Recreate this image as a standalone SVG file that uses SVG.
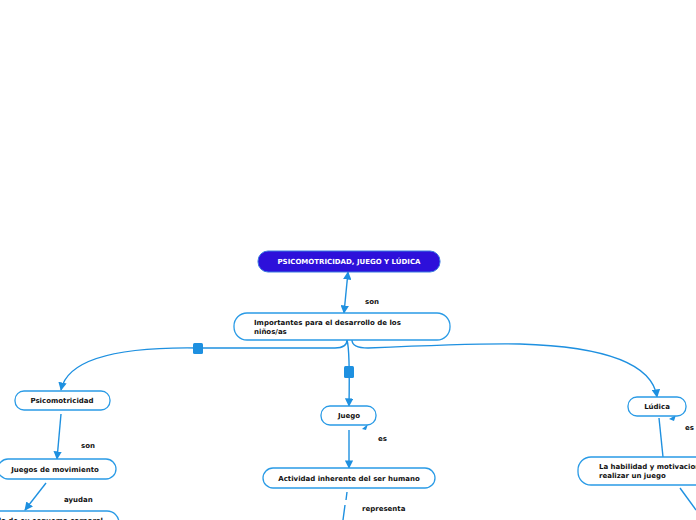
<svg xmlns="http://www.w3.org/2000/svg" width="696" height="520" viewBox="0 0 696 520">
<style>
.n{fill:#fff;stroke:#2a9be6;stroke-width:1.3}
.t{font-family:"DejaVu Sans",Verdana,sans-serif;font-weight:bold;font-size:7px;fill:#111}
.c{fill:none;stroke:#1e90e0;stroke-width:1.4}
.h{fill:#1e90e0}
</style>
<defs>
<marker id="a" viewBox="0 0 10 10" refX="9" refY="5" markerWidth="6" markerHeight="6" orient="auto-start-reverse"><path d="M0,0L10,5L0,10z" fill="#1e90e0"/></marker>
</defs>
<rect width="696" height="520" fill="#fff"/>
<g id="connectors">
<path class="c" d="M348,272L344,313" marker-start="url(#a)" marker-end="url(#a)"/>
<path class="c" d="M347,340Q347,348 335,348L198,348Q70,346 61,390" marker-end="url(#a)"/>
<path class="c" d="M347,340Q350,350 349,406" marker-end="url(#a)"/>
<path class="c" d="M352,340Q352,348 368,348Q480,343 520,344Q650,348 657,397" marker-end="url(#a)"/>
<path class="c" d="M61,414L57,459" marker-end="url(#a)"/>
<path class="c" d="M46,483L25,510" marker-end="url(#a)"/>
<path class="c" d="M349,430L349,468" marker-end="url(#a)"/>
<path class="c" d="M347,492L346,500M345,505L343,520" stroke-width="1"/>
<path class="c" d="M659,418L663,457"/>
<path class="c" d="M680,488L696,510"/>
<path d="M362,429L368,424L366,430z" class="h"/>
<path d="M669,419L676,415L674,421z" class="h"/>
<rect class="h" x="193" y="343" width="10" height="11" rx="1.5"/>
<rect class="h" x="344" y="366" width="10" height="12" rx="1.5"/>
<g class="t"><text x="365" y="304">son</text><text x="81" y="448">son</text><text x="64" y="502">ayudan</text><text x="378" y="441">es</text><text x="362" y="511">representa</text><text x="685" y="430">es</text></g>
</g>
<g id="root"><rect x="258" y="251" width="182" height="21" rx="10" fill="#2d10da" stroke="#3a7be0" stroke-width="1"/><text class="t" x="349" y="264" text-anchor="middle" style="fill:#fff;font-size:7px">PSICOMOTRICIDAD, JUEGO Y LÚDICA</text></g>
<g id="importantes"><rect class="n" x="234" y="313" width="216" height="27" rx="13"/><text class="t" x="254" y="325">Importantes para el desarrollo de los</text><text class="t" x="254" y="334">niños/as</text></g>
<g id="psicomotricidad"><rect class="n" x="15" y="391" width="95" height="19" rx="9"/><text class="t" x="62" y="403" text-anchor="middle">Psicomotricidad</text></g>
<g id="juegos-mov"><rect class="n" x="-2" y="459" width="118" height="20" rx="10"/><text class="t" x="55" y="472" text-anchor="middle">Juegos de movimiento</text></g>
<g id="esquema"><rect class="n" x="-40" y="511" width="159" height="26" rx="12"/><text class="t" x="103" y="523" text-anchor="end">Desarrollo de su esquema corporal</text></g>
<g id="juego"><rect class="n" x="321" y="406" width="55" height="19" rx="9"/><text class="t" x="349" y="418" text-anchor="middle">Juego</text></g>
<g id="actividad"><rect class="n" x="263" y="468" width="172" height="20" rx="10"/><text class="t" x="349" y="481" text-anchor="middle">Actividad inherente del ser humano</text></g>
<g id="ludica"><rect class="n" x="628" y="397" width="58" height="19" rx="9"/><text class="t" x="657" y="409" text-anchor="middle">Lúdica</text></g>
<g id="habilidad"><rect class="n" x="578" y="457" width="140" height="28" rx="13"/><text class="t" x="599" y="469">La habilidad y motivacion</text><text class="t" x="599" y="478">realizar un juego</text></g>
</svg>
